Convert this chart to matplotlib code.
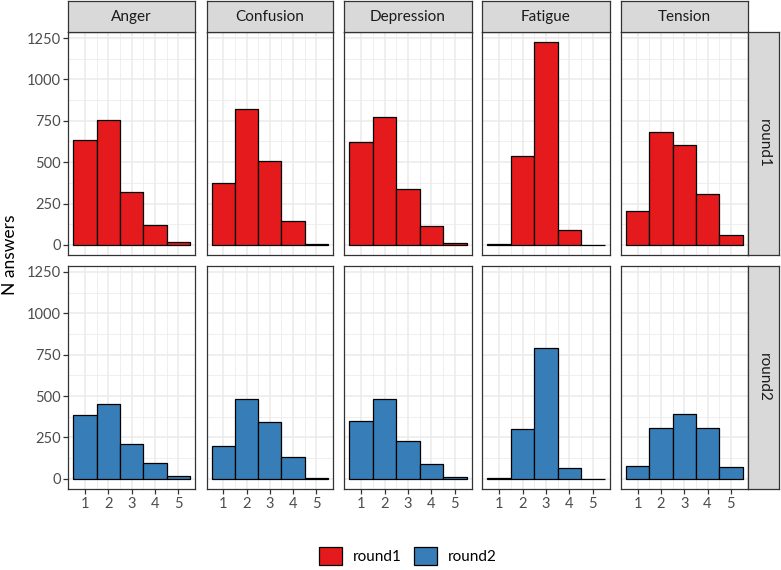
import matplotlib
matplotlib.use("Agg")
import matplotlib.pyplot as plt
from matplotlib.patches import Patch
import numpy as np

plt.rcParams['font.family'] = ['Lato', 'DejaVu Sans']

emotions = ["Anger", "Confusion", "Depression", "Fatigue", "Tension"]
rounds = ["round1", "round2"]
scores = [1, 2, 3, 4, 5]

round1_anger = [635, 756, 319, 123, 16]
round1_confusion = [377, 823, 506, 143, 4]
round1_depression = [621, 772, 339, 115, 10]
round1_fatigue = [4, 540, 1224, 91, 1]
round1_tension = [206, 682, 603, 309, 59]

round2_anger = [383, 455, 212, 97, 20]
round2_confusion = [201, 484, 342, 129, 8]
round2_depression = [347, 484, 230, 91, 14]
round2_fatigue = [8, 302, 793, 64, 2]
round2_tension = [80, 310, 391, 310, 73]

data = {
    "round1": [round1_anger, round1_confusion, round1_depression, round1_fatigue, round1_tension],
    "round2": [round2_anger, round2_confusion, round2_depression, round2_fatigue, round2_tension],
}
colors = {"round1": "#E41A1C", "round2": "#377EB8"}

W, H = 781, 570
fig = plt.figure(figsize=(W / 100, H / 100), dpi=100)

cols_x = [(68.3, 195), (206.7, 333), (344.3, 471.7), (482.3, 609.7), (620.7, 747.7)]
rows_y = [(32.3, 255), (266, 489)]

def fig_rect(x0, x1, y0, y1):
    return [x0 / W, 1 - y1 / H, (x1 - x0) / W, (y1 - y0) / H]

ymax = max(max(v) for r in data.values() for v in r)
grid_c = "#EBEBEB"
border_c = "#333333"
tick_c = "#4D4D4D"

for ri, rnd in enumerate(rounds):
    for ci, emo in enumerate(emotions):
        x0, x1 = cols_x[ci]
        y0, y1 = rows_y[ri]
        ax = fig.add_axes(fig_rect(x0, x1, y0, y1))
        ax.set_xlim(0.28, 5.72)
        ax.set_ylim(-0.05 * ymax, 1.05 * ymax)
        ax.set_yticks([0, 250, 500, 750, 1000, 1250])
        ax.set_yticks([125, 375, 625, 875, 1125], minor=True)
        ax.set_xticks(scores)
        ax.set_xticks([1.5, 2.5, 3.5, 4.5], minor=True)
        ax.grid(True, which="major", color=grid_c, lw=1.1)
        ax.grid(True, which="minor", color=grid_c, lw=0.55)
        ax.set_axisbelow(True)
        ax.bar(scores, data[rnd][ci], width=1, color=colors[rnd],
               edgecolor="black", linewidth=0.9, zorder=3)
        for s in ax.spines.values():
            s.set_color(border_c)
            s.set_linewidth(0.9)
        ax.tick_params(which="minor", length=0)
        ax.tick_params(which="major", length=3.5, width=0.9, color=border_c,
                       labelcolor=tick_c, labelsize=10.5, pad=2)
        if ci != 0:
            ax.tick_params(axis="y", which="major", length=0, labelleft=False)
        if ri != 1:
            ax.tick_params(axis="x", which="major", length=0, labelbottom=False)
        if ri == 0:
            sax = fig.add_axes(fig_rect(x0, x1, 1, y0))
            sax.set_facecolor("#D9D9D9")
            sax.set_xticks([]); sax.set_yticks([])
            for s in sax.spines.values():
                s.set_color(border_c); s.set_linewidth(0.9)
            sax.text(0.5, 0.5, emo, ha="center", va="center", fontsize=11,
                     color="#1A1A1A", transform=sax.transAxes)
        if ci == len(emotions) - 1:
            rax = fig.add_axes(fig_rect(x1, 779.3, y0, y1))
            rax.set_facecolor("#D9D9D9")
            rax.set_xticks([]); rax.set_yticks([])
            for s in rax.spines.values():
                s.set_color(border_c); s.set_linewidth(0.9)
            rax.text(0.5, 0.5, rnd, ha="center", va="center", fontsize=11,
                     color="#1A1A1A", rotation=-90, transform=rax.transAxes)

fig.text(10 / W, 1 - 255 / H, "N answers", rotation=90, ha="center", va="center",
         fontsize=12.5, color="black")

handles = [Patch(facecolor=colors[r], edgecolor="black", linewidth=0.9, label=r) for r in rounds]
fig.legend(handles=handles, loc="center", bbox_to_anchor=(408 / W, 1 - 556 / H), ncol=2,
           frameon=False, fontsize=11, handlelength=1.5, handleheight=1.45,
           columnspacing=0.8, handletextpad=0.72, borderpad=0.2)

fig.savefig("out.png", dpi=100)
